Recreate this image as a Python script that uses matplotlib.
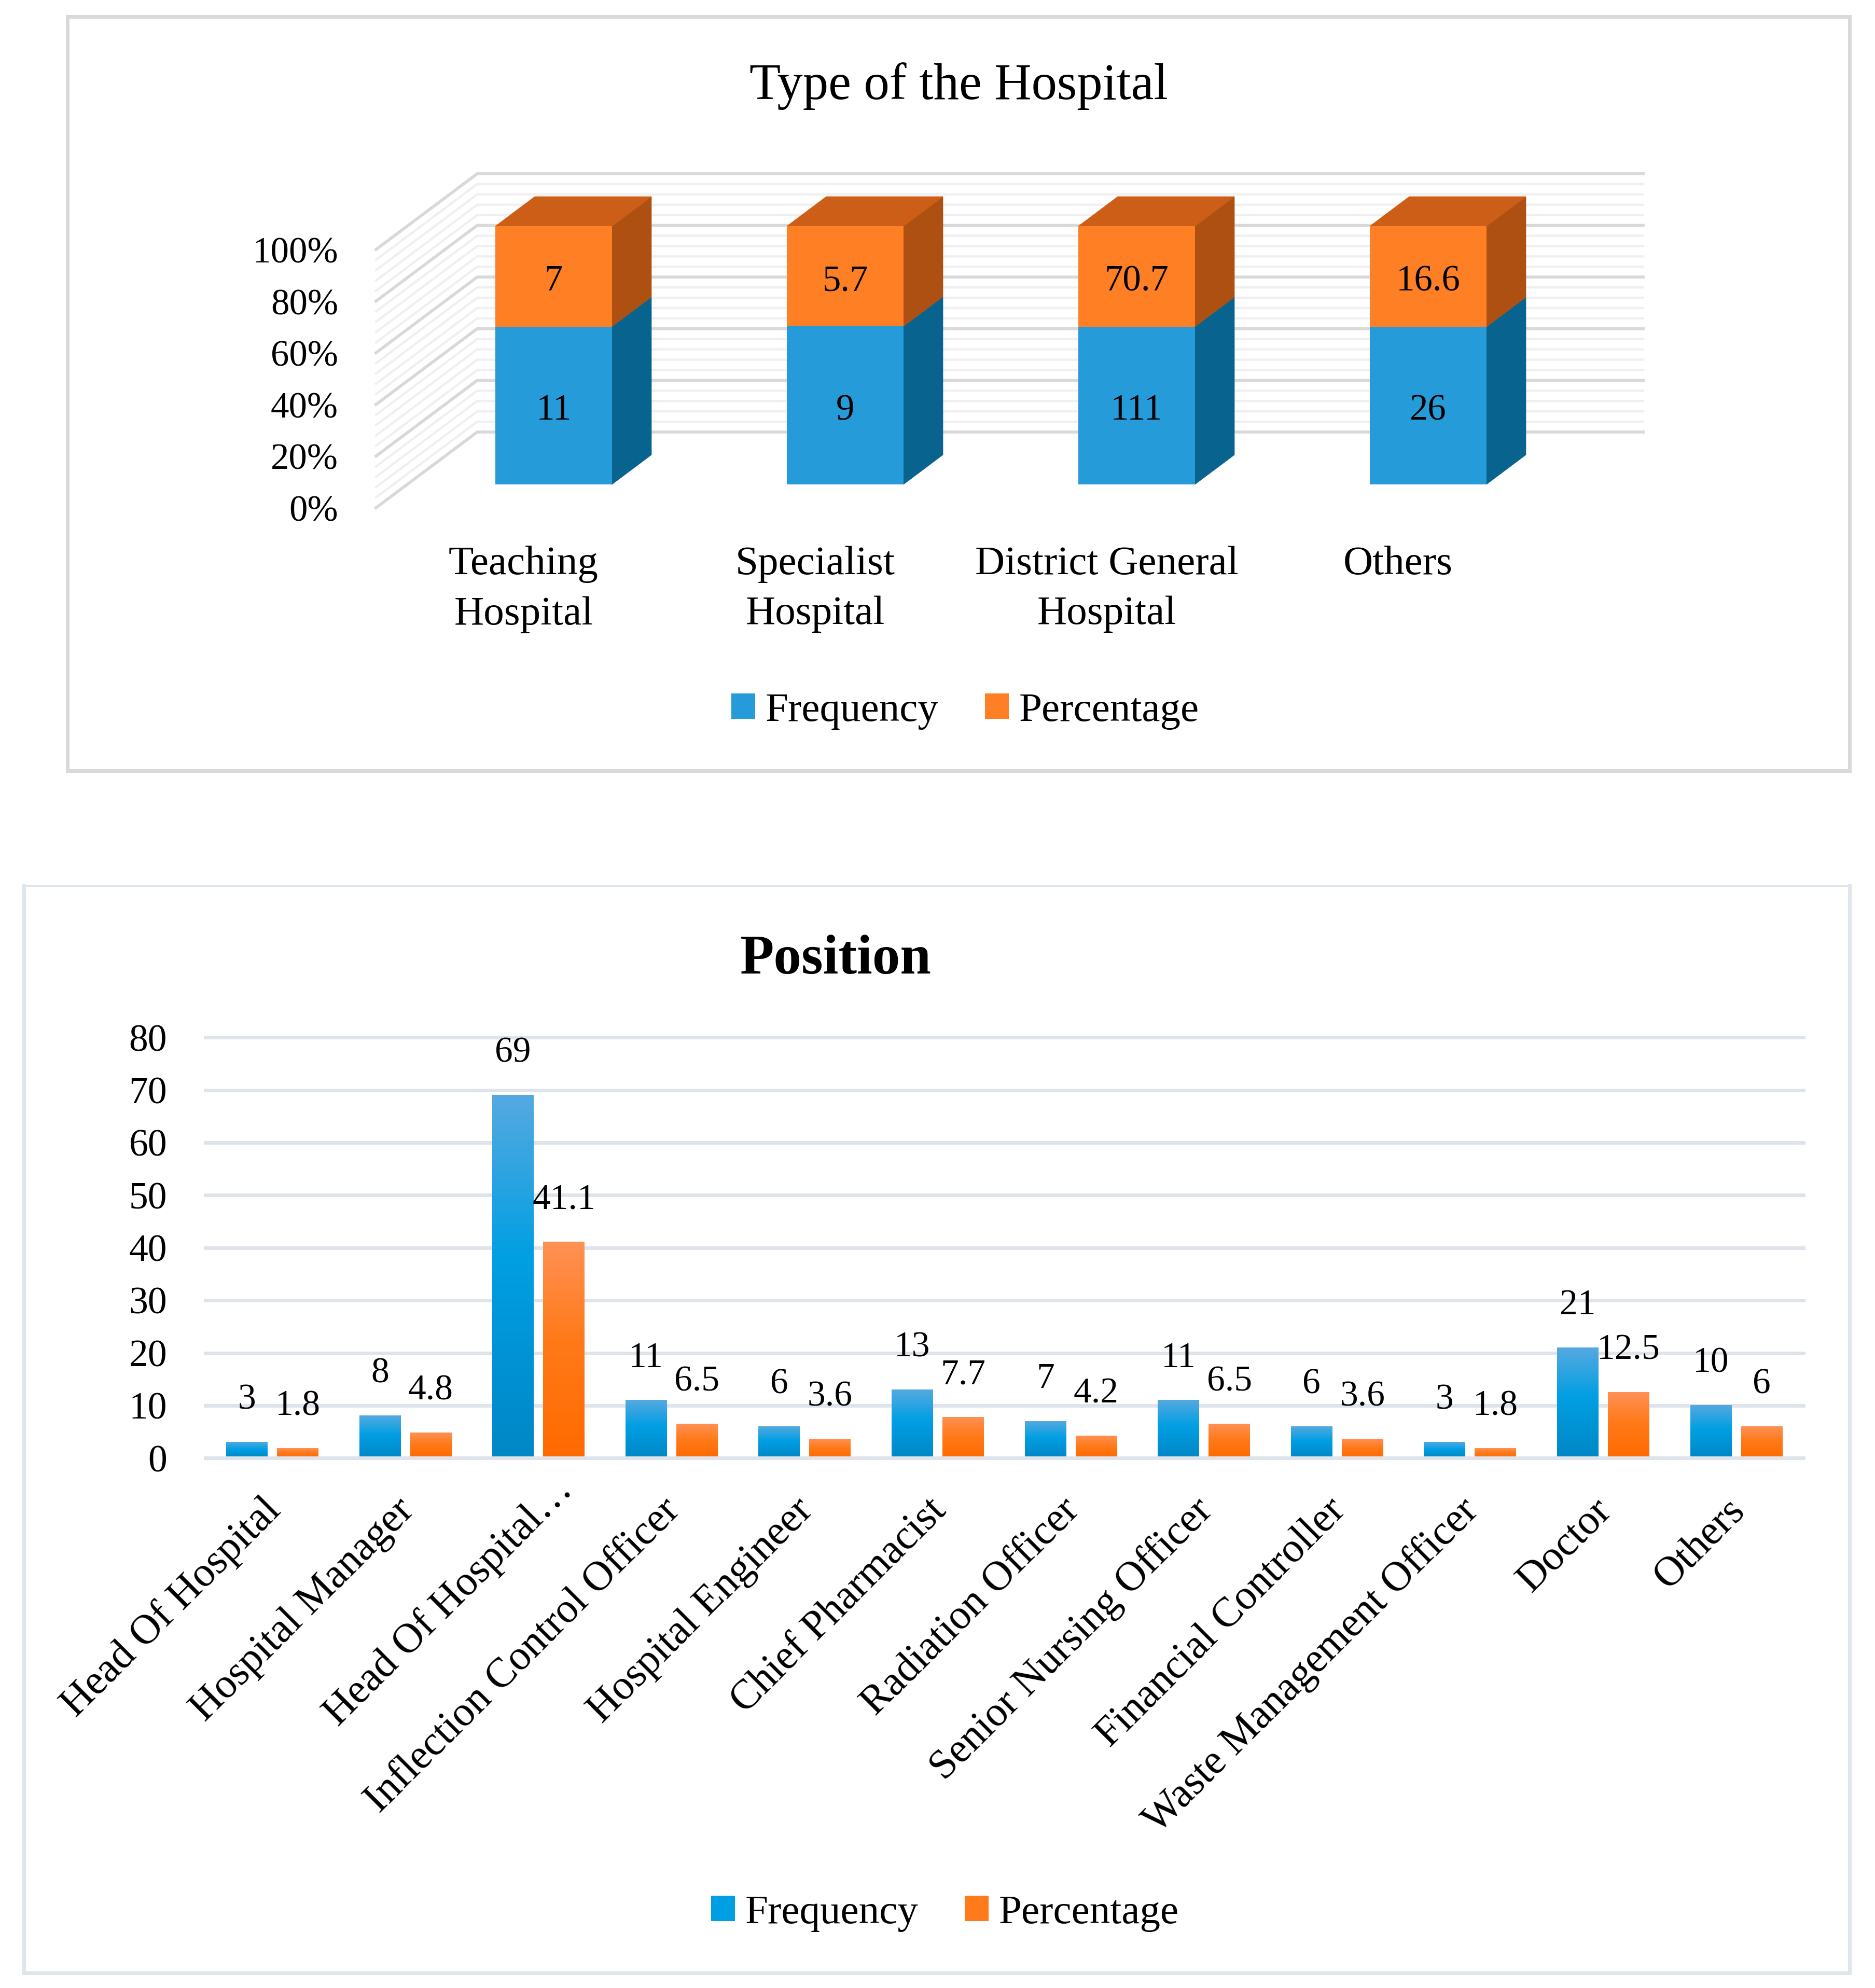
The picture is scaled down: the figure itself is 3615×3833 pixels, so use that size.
import numpy as np
import matplotlib
matplotlib.use("Agg")
import matplotlib.pyplot as plt
from matplotlib.colors import LinearSegmentedColormap
from matplotlib.patches import Polygon
from matplotlib.lines import Line2D

plt.rcParams['font.family'] = ['Liberation Serif', 'DejaVu Serif']

# ---------- data ----------
hospital_types = ["Teaching\nHospital", "Specialist\nHospital", "District General\nHospital", "Others"]
hospital_freq = [11, 9, 111, 26]
hospital_pct = [7, 5.7, 70.7, 16.6]
percent_ticks = [0, 20, 40, 60, 80, 100]

positions = ["Head Of Hospital", "Hospital Manager", "Head Of Hospital\u2026", "Inflection Control Officer",
             "Hospital Engineer", "Chief Pharmacist", "Radiation Officer", "Senior Nursing Officer",
             "Financial Controller", "Waste Management Officer", "Doctor", "Others"]
position_freq = [3, 8, 69, 11, 6, 13, 7, 11, 6, 3, 21, 10]
position_pct = [1.8, 4.8, 41.1, 6.5, 3.6, 7.7, 4.2, 6.5, 3.6, 1.8, 12.5, 6]
count_ticks = [0, 10, 20, 30, 40, 50, 60, 70, 80]

# ---------- figure helpers ----------
W, H = 3615, 3833
PT = 0.72  # points per pixel at dpi 100
fig = plt.figure(figsize=(W / 100, H / 100), dpi=100, facecolor='white')

def ax_px(x0, y0, x1, y1):
    return fig.add_axes([x0 / W, 1 - y1 / H, (x1 - x0) / W, (y1 - y0) / H])

def frame(x0, y0, x1, y1, color, top_lw=7):
    for (xa, ya, xb, yb, lw) in [(x0, y0, x1, y0, top_lw), (x1, y0, x1, y1, 7), (x1, y1, x0, y1, 7), (x0, y1, x0, y0, 7)]:
        fig.add_artist(Line2D([xa / W, xb / W], [1 - ya / H, 1 - yb / H], transform=fig.transFigure,
                              color=color, lw=lw * PT, solid_capstyle='projecting'))

frame(130, 32, 3566, 1486, '#d9d9d9')
frame(46, 1708, 3566, 3804, '#dee5ec', top_lw=4)

fig.text(1848 / W, 1 - 166 / H, "Type of the Hospital", ha='center', va='center', fontsize=71, color='black')
fig.text(1611 / W, 1 - 1851 / H, "Position", ha='center', va='center', fontsize=77, fontweight='bold', color='black')

# ---------- top chart: pseudo-3D 100 % stacked columns ----------
ax = ax_px(725, 336, 3168, 979)
xstep = 562.0
ystep = 4.98
ax.set_xlim((725 - 1067.5) / xstep, (3168 - 1067.5) / xstep)
ax.set_ylim((934 - 979) / ystep, (934 - 336) / ystep)
ax.axis('off')

floor_y = (934 - 979) / ystep
wall_x0 = (725 - 1067.5) / xstep
wall_dx = 195 / xstep
wall_dy = 146 / ystep
wall_x1 = (3168 - 1067.5) / xstep
for v in np.arange(0, 101, 4):
    major = v % 20 == 0
    ax.plot([wall_x0, wall_x0 + wall_dx, wall_x1],
            [floor_y + v, floor_y + v + wall_dy, floor_y + v + wall_dy],
            color='#d9d9d9' if major else '#f0f0f0', lw=4.2 if major else 3.2,
            solid_joinstyle='miter', zorder=1, clip_on=False)

h_freq = np.array(hospital_freq, float)
h_pct = np.array(hospital_pct, float)
share_f = h_freq / (h_freq + h_pct) * 100
share_p = h_pct / (h_freq + h_pct) * 100
xs = np.arange(len(hospital_types))
bw = 225 / xstep
ddx = 76 / xstep
ddy = 57 / ystep
b1 = ax.bar(xs, share_f, bw, color='#259bd9', zorder=4, label='Frequency')
b2 = ax.bar(xs, share_p, bw, bottom=share_f, color='#ff7f24', zorder=4, label='Percentage')
for r1, r2 in zip(b1, b2):
    xr = r1.get_x() + r1.get_width()
    xl = r1.get_x()
    y1 = r1.get_height()
    y2 = y1 + r2.get_height()
    ax.add_patch(Polygon([(xr, 0), (xr + ddx, ddy), (xr + ddx, y1 + ddy), (xr, y1)], fc='#08648f', ec='#08648f', lw=0.5, zorder=3))
    ax.add_patch(Polygon([(xr, y1), (xr + ddx, y1 + ddy), (xr + ddx, y2 + ddy), (xr, y2)], fc='#ae5012', ec='#ae5012', lw=0.5, zorder=3))
    ax.add_patch(Polygon([(xl, y2), (xl + ddx, y2 + ddy), (xr + ddx, y2 + ddy), (xr, y2)], fc='#cc5e17', ec='#cc5e17', lw=0.5, zorder=3))
for i in xs:
    for yc, val in ((share_f[i] / 2, hospital_freq[i]), (share_f[i] + share_p[i] / 2, hospital_pct[i])):
        ax.annotate(f"{val:g}", (i, yc), xytext=(0, -10 * PT), textcoords='offset points',
                    ha='center', va='center', fontsize=51, color='black', zorder=6)
for v in percent_ticks:
    ax.annotate(f"{v}%", (wall_x0, floor_y + v), xytext=(-73 * PT, -8 * PT), textcoords='offset points',
                ha='right', va='center', fontsize=51, color='black', annotation_clip=False)
for i, lab in enumerate(hospital_types):
    ax.annotate(lab, (i, floor_y), xytext=(-58 * PT, -(1052 - 979) * PT), textcoords='offset points',
                ha='center', va='top', fontsize=57, color='black', linespacing=1.46, annotation_clip=False)
LEG = dict(loc='center', ncol=2, frameon=False, fontsize=57, handlelength=0.58, handleheight=0.58,
           handletextpad=0.25, columnspacing=1.12, labelcolor='black')
fig.legend(handles=[b1, b2], bbox_to_anchor=(1861 / W, 1 - 1371 / H), **LEG)

# ---------- bottom chart: clustered columns with gradients ----------
ax2 = ax_px(396, 2000.3, 3477, 2811.3)
n = len(positions)
step = 256.6
xlim2 = ((396 - 525) / step, (3477 - 525) / step)
for s in ax2.spines.values():
    s.set_visible(False)
ax2.set_yticks(count_ticks)
ax2.set_yticklabels([str(v) for v in count_ticks], fontsize=53, color='black')
ax2.tick_params(axis='y', length=0, pad=74 * PT)
ax2.grid(axis='y', color='#dee4ea', lw=7 * PT, clip_on=False)
ax2.set_axisbelow(True)
ax2.set_xticks(np.arange(n))
ax2.set_xticklabels([])
ax2.tick_params(axis='x', length=0)

cm_blue = LinearSegmentedColormap.from_list('b', [(0, '#56a9e0'), (0.45, '#009fe3'), (1, '#0087c6')])
cm_orng = LinearSegmentedColormap.from_list('o', [(0, '#ff9155'), (0.45, '#ff7a1a'), (1, '#ff6a00')])
grad = np.linspace(0, 1, 256).reshape(-1, 1)
w = 80 / step
off = 49 / step
x = np.arange(n)
b3 = ax2.bar(x - off, position_freq, w, color='#009fe3', label='Frequency', zorder=3)
b4 = ax2.bar(x + off, position_pct, w, color='#ff7a1a', label='Percentage', zorder=3)
for bars, cm in ((b3, cm_blue), (b4, cm_orng)):
    for r in bars:
        ax2.imshow(grad, cmap=cm, aspect='auto', zorder=3.5, vmin=0, vmax=1,
                   extent=(r.get_x(), r.get_x() + r.get_width(), 0, r.get_height()))
ax2.set_xlim(*xlim2)
ax2.set_ylim(0, 80)
ax2.axhline(0, color='#dee4ea', lw=7 * PT, zorder=5, clip_on=False)
for bars, vals in ((b3, position_freq), (b4, position_pct)):
    for r, v in zip(bars, vals):
        ax2.annotate(f"{v:g}", (r.get_x() + r.get_width() / 2, r.get_height()), xytext=(0, 81 * PT),
                     textcoords='offset points', ha='center', va='center', fontsize=50, color='black',
                     zorder=6, annotation_clip=False)
for i, lab in enumerate(positions):
    dx, dy = (54, -50) if lab.endswith('\u2026') else (5, -90)
    ax2.annotate(lab, (i, 0), xytext=(dx * PT, dy * PT), textcoords='offset points',
                 ha='right', va='center', rotation=45, rotation_mode='anchor', fontsize=57.5,
                 color='black', annotation_clip=False)
fig.legend(handles=[b3, b4], bbox_to_anchor=(1822 / W, 1 - 3689 / H), **LEG)

fig.savefig('out.png', dpi=100)
